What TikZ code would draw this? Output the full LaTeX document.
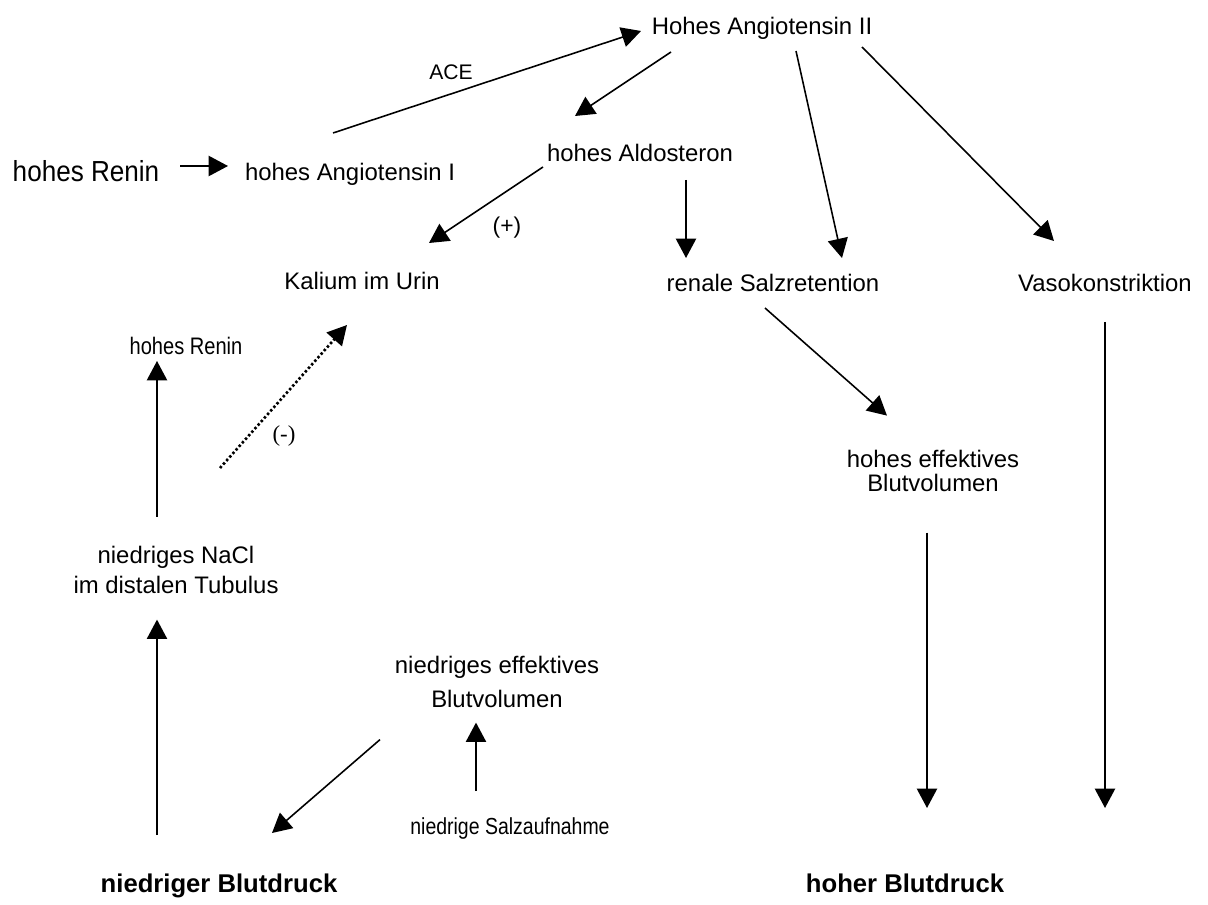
\documentclass[tikz,border=0pt]{standalone}
\usepackage{fontspec}
\setmainfont{Liberation Sans}
\newfontfamily\timesfont{Liberation Serif}
\newfontfamily\reninfont[FakeStretch=0.9]{Liberation Sans}
\newfontfamily\narrowfont[FakeStretch=0.84]{Liberation Sans}
\usetikzlibrary{arrows.meta,calc}
\begin{document}
\begin{tikzpicture}[
    x=0.02cm, y=-0.02cm,
    txt/.style={inner sep=0pt, anchor=base, font=\fontsize{13.6}{16}\selectfont},
    bigtxt/.style={inner sep=0pt, anchor=base, font=\bfseries\fontsize{14.6}{17}\selectfont},
    twoline/.style={inner sep=0pt, anchor=north, align=center},
    arr/.style={-{Triangle[length=11pt,width=11.5pt]}, line width=0.9pt},
    dotarr/.style={arr, line width=1.5pt, dash pattern=on 1.4pt off 1.3pt}
  ]
  \useasboundingbox (0,0) rectangle (1208,905);

  %% ── Renin / Angiotensin ──
  \node[txt, font=\reninfont\fontsize{16.5}{19}\selectfont] (renin1) at (86,182) {hohes Renin};
  \node[txt] (ang1) at (350,181) {hohes Angiotensin I};
  \node[txt] (ang2) at (762,35) {Hohes Angiotensin II};
  \node[txt, font=\fontsize{12}{14}\selectfont] (ace) at (451,80) {ACE};

  %% ── Middle row ──
  \node[txt] (aldo) at (640,162) {hohes Aldosteron};
  \node[txt] (kalium) at (362,290) {Kalium im Urin};
  \node[txt] (salz) at (773,292) {renale Salzretention};
  \node[txt] (vaso) at (1105,292) {Vasokonstriktion};
  \node[txt, font=\fontsize{13}{15}\selectfont] (plus) at (507,234) {(+)};

  %% ── Left branch ──
  \node[txt, font=\narrowfont\fontsize{13.6}{16}\selectfont] (renin2) at (186,355) {hohes Renin};
  \node[txt, font=\timesfont\fontsize{13}{15}\selectfont] (minus) at (284,442) {(-)};
  \node[twoline, font=\fontsize{13.6}{17.1}\selectfont] (nacl) at (176,545.6)
      {niedriges NaCl\\im distalen Tubulus};
  \node[twoline, font=\fontsize{13.6}{19.4}\selectfont] (niedeff) at (497,655.6)
      {niedriges effektives\\Blutvolumen};
  \node[txt, font=\narrowfont\fontsize{13.2}{15}\selectfont] (salzauf) at (510,834) {niedrige Salzaufnahme};
  \node[bigtxt] (nbd) at (219,892) {niedriger Blutdruck};
  \coordinate (dotstart) at (220,468);

  %% ── Right branch ──
  \node[twoline, font=\fontsize{13.6}{13.7}\selectfont] (hoheff) at (933,449.6)
      {hohes effektives\\Blutvolumen};
  \node[bigtxt] (hbd) at (905,892) {hoher Blutdruck};

  %% ── Arrows ──
  \draw[arr] ($(renin1.base)+(94,-16)$) -- ($(ang1.base)+(-122,-15)$);
  \draw[arr] ($(ang1.base)+(-17,-48)$) -- ($(ang2.base)+(-121,-4)$);
  \draw[arr] ($(ang2.base)+(-91,17)$) -- ($(aldo.base)+(-65,-46)$);
  \draw[arr] ($(ang2.base)+(34,16)$) -- ($(salz.base)+(69,-34)$);
  \draw[arr] ($(ang2.base)+(100,12)$) -- ($(vaso.base)+(-51,-51)$);
  \draw[arr] ($(aldo.base)+(-97,5)$) -- ($(kalium.base)+(67,-47)$);
  \draw[arr] ($(aldo.base)+(46,18)$) -- ($(salz.base)+(-87,-34)$);
  \draw[arr] ($(salz.base)+(-8,16)$) -- ($(hoheff.north)+(-46,-34)$);
  \draw[arr] ($(vaso.base)+(0,30)$) -- ($(hbd.base)+(200,-84)$);
  \draw[arr] ($(hoheff.north)+(-6,83)$) -- ($(hbd.base)+(22,-84)$);
  \draw[arr] ($(nacl.north)+(-19,-29)$) -- ($(renin2.base)+(-29,6)$);
  \draw[dotarr] (dotstart) -- ($(kalium.base)+(-15,35)$);
  \draw[arr] ($(nbd.base)+(-62,-57)$) -- ($(nacl.north)+(-19,74)$);
  \draw[arr] ($(niedeff.north)+(-117,84)$) -- ($(nbd.base)+(53,-59)$);
  \draw[arr] ($(salzauf.base)+(-34,-43)$) -- ($(niedeff.north)+(-21,67)$);

\end{tikzpicture}
\end{document}
